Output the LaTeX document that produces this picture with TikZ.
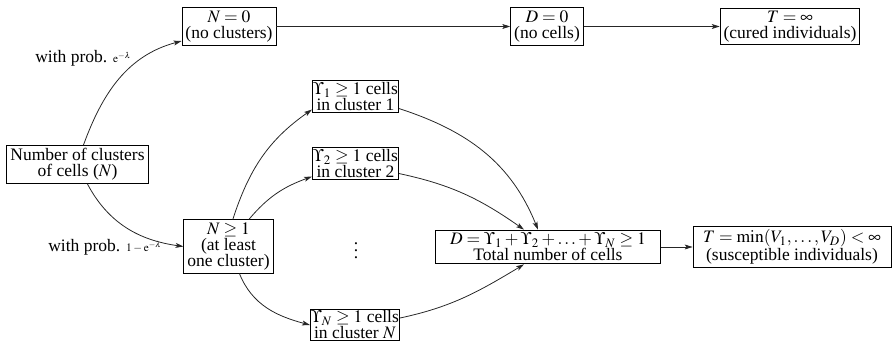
\documentclass[tikz,border=0pt]{standalone}
\usepackage{mathptmx}
\usepackage{fontspec}
\setmainfont{Liberation Serif}
\usetikzlibrary{arrows.meta,calc}
\begin{document}
\begin{tikzpicture}[x=0.571pt,y=-0.571pt,
  every node/.style={font=\fontsize{10}{9.2}\selectfont},
  box/.style={draw, line width=0.5pt, align=center, inner xsep=2pt, inner ysep=1.6pt},
  ubox/.style={box, inner xsep=0.4pt, inner ysep=0.8pt},
  lbl/.style={inner sep=0pt, anchor=base west},
  conn/.style={line width=0.45pt, black!85, -{Stealth[length=4.5pt,width=2.8pt,inset=1pt]}}]
\useasboundingbox (0,0) rectangle (892,342);
\node[box] (n0) at (229,26.5) {$N=0$\\(no clusters)};
\node[box] (d0) at (547,26.5) {$D=0$\\(no cells)};
\node[box, minimum width=77pt] (tinf) at (790,26.5) {$T=\infty$\\(cured individuals)};
\node[box] (num) at (77.5,164.5) {Number of clusters\\of cells ($N$)};
\node[box] (n1) at (228.5,246.5) {$N\geq 1$\\(at least\\one cluster)};
\node[ubox] (u1) at (355.5,96.5) {$\Upsilon_1\geq 1$ cells\\in cluster 1};
\node[ubox] (u2) at (355.5,163.5) {$\Upsilon_2\geq 1$ cells\\in cluster 2};
\node[ubox] (uN) at (355,325) {$\Upsilon_N\geq 1$ cells\\in cluster $N$};
\node[inner sep=0pt] (dots) at (356,245) {$\vdots$};
\node[box, minimum width=128pt] (D) at (548,247) {$D=\Upsilon_1+\Upsilon_2+\ldots+\Upsilon_N\geq 1$\\Total number of cells};
\node[box, minimum width=113pt] (Tm) at (792,247) {$T=\min(V_1,\ldots,V_D)<\infty$\\(susceptible individuals)};
\node[lbl] (l1) at (35,63) {with prob. {\fontsize{6.5}{7}\selectfont$\mathrm{e}^{-\lambda}$}};
\node[lbl] (l2) at (48,252) {with prob. {\fontsize{6.5}{7}\selectfont$1-\mathrm{e}^{-\lambda}$}};
% straight arrows
\draw[conn] (n0.east) -- (d0.west);
\draw[conn] (d0.east) -- (tinf.west);
\draw[conn] (D.east) -- (Tm.west);
% curves
\draw[conn] (num.73) to[out=70,in=195] (n0.197);
\draw[conn] (num.-63) to[out=-62,in=172] (n1.west);
\draw[conn] (n1.81) to[out=72,in=215] ($(u1.south west)+(0,-3)$);
\draw[conn] (n1.53) to[out=50,in=200] ($(u2.south west)+(0,-3)$);
\draw[conn] (n1.-68) to[out=-68,in=165] (uN.west);
\draw[conn] ($(u1.south east)+(0,-4)$) to[out=-18,in=112] ($(D.north)+(-10,0)$);
\draw[conn] ($(u2.south east)+(0,-6)$) to[out=-12,in=145] ($(D.north)+(-24,0)$);
\draw[conn] ($(uN.east)+(0,-7)$) to[out=12,in=211] ($(D.south)+(-24,0)$);
\end{tikzpicture}
\end{document}
